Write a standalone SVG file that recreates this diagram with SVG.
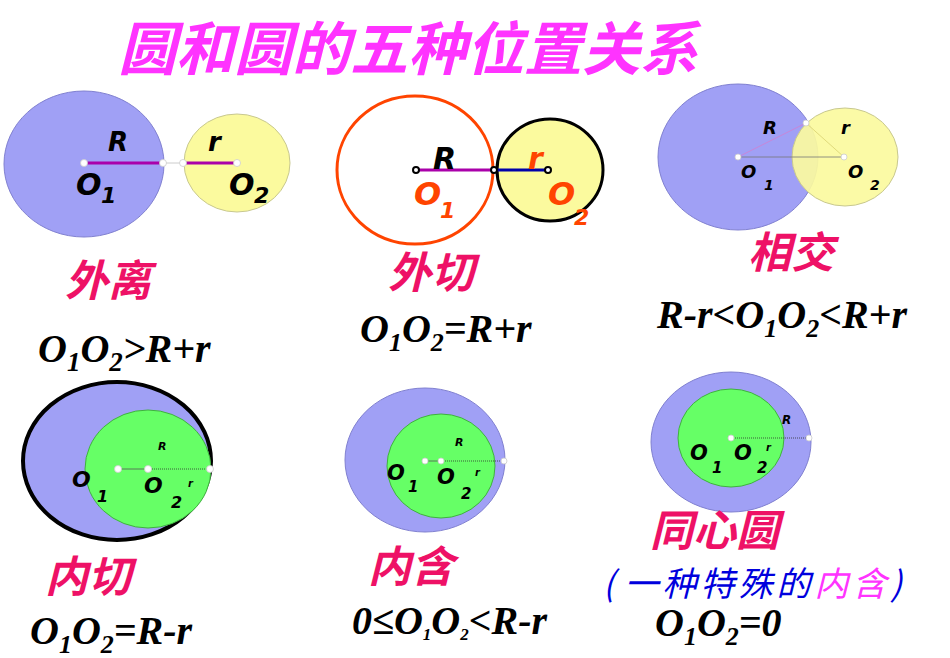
<svg xmlns="http://www.w3.org/2000/svg" width="950" height="658" viewBox="0 0 950 658">
<style>
.big{fill:#a0a0f5;stroke:#8080d0;stroke-width:1}
.yel{fill:#fbfa9e;stroke:#c8c890;stroke-width:1}
.grn{fill:#66ff66;stroke:#40b040;stroke-width:1}
.pt{fill:#fff;stroke:#ccc;stroke-width:0.8}
.lbl{font-family:"DejaVu Sans",sans-serif;font-style:italic;font-weight:bold;fill:#000}
.cn{font-family:"Noto Sans CJK SC",sans-serif;font-style:italic;font-weight:bold;fill:#ee1166;font-size:43px}
.f{font-family:"Liberation Serif",serif;font-style:italic;font-weight:bold;fill:#000;font-size:40px}
.dot{stroke:#333;stroke-width:0.8;stroke-dasharray:1 1}
</style>
<rect width="950" height="658" fill="#fff"/>
<text x="118" y="70" font-family="Noto Sans CJK SC,sans-serif" font-style="italic" font-weight="bold" font-size="58" fill="#ff33ff">圆和圆的五种位置关系</text>

<g id="waili">
<ellipse class="big" cx="84" cy="164" rx="80" ry="73"/>
<ellipse class="yel" cx="237" cy="163" rx="53" ry="49"/>
<line x1="84" y1="163" x2="163" y2="163" stroke="#aa00aa" stroke-width="3"/>
<line x1="163" y1="163" x2="183" y2="163" stroke="#ccc" stroke-width="1"/>
<line x1="183" y1="163" x2="237" y2="163" stroke="#aa00aa" stroke-width="3"/>
<circle class="pt" cx="84" cy="163" r="3.5"/><circle class="pt" cx="163" cy="163" r="3.5"/><circle class="pt" cx="183" cy="163" r="3.5"/><circle class="pt" cx="237" cy="163" r="3.5"/>
<text class="lbl" x="108" y="151" font-size="26">R</text>
<text class="lbl" x="76" y="195" font-size="30">O</text><text class="lbl" x="101" y="203" font-size="22">1</text>
<text class="lbl" x="208" y="151" font-size="26">r</text>
<text class="lbl" x="229" y="195" font-size="30">O</text><text class="lbl" x="254" y="203" font-size="22">2</text>
<text class="cn" x="65" y="296">外离</text>
<text class="f" x="38" y="362" font-size="42">O<tspan font-size="27" dy="9">1</tspan><tspan dy="-9">O</tspan><tspan font-size="27" dy="9">2</tspan><tspan dy="-9">&gt;R+r</tspan></text>
</g>

<g id="waiqie">
<ellipse cx="415" cy="170" rx="78" ry="74" fill="#fff" stroke="#ff4400" stroke-width="3"/>
<ellipse cx="550" cy="170" rx="53" ry="51" fill="#fbfa9e" stroke="#000" stroke-width="3"/>
<line x1="416" y1="170" x2="494" y2="170" stroke="#aa00aa" stroke-width="3"/>
<line x1="494" y1="170" x2="548" y2="170" stroke="#0000aa" stroke-width="3"/>
<circle cx="416" cy="170" r="3" fill="#fff" stroke="#000" stroke-width="2"/><circle cx="494" cy="170" r="3" fill="#fff" stroke="#000" stroke-width="2"/><circle cx="548" cy="170" r="3" fill="#fff" stroke="#000" stroke-width="2"/>
<text class="lbl" x="433" y="169" font-size="30" font-weight="normal">R</text>
<text class="lbl" x="528" y="169" font-size="30" font-weight="normal" style="fill:#ff4400">r</text>
<text class="lbl" x="414" y="205" font-size="32" font-weight="normal" style="fill:#ff4400">O</text><text class="lbl" x="440" y="218" font-size="22" font-weight="normal" style="fill:#ff4400">1</text>
<text class="lbl" x="548" y="205" font-size="32" font-weight="normal" style="fill:#ff4400">O</text><text class="lbl" x="574" y="225" font-size="22" font-weight="normal" style="fill:#ff4400">2</text>
<text class="cn" x="388" y="288">外切</text>
<text class="f" x="360" y="342">O<tspan font-size="26" dy="9">1</tspan><tspan dy="-9">O</tspan><tspan font-size="26" dy="9">2</tspan><tspan dy="-9">=R+r</tspan></text>
</g>

<g id="xiangjiao">
<ellipse class="big" cx="738" cy="157" rx="80" ry="73"/>
<ellipse cx="845" cy="157" rx="53" ry="49" fill="#fbfa9e" fill-opacity="0.92" stroke="#c8c890"/>
<line x1="738" y1="157" x2="844" y2="157" stroke="#777" stroke-width="0.8"/>
<line x1="738" y1="157" x2="806" y2="123" stroke="#d080d0" stroke-width="0.8"/>
<line x1="806" y1="123" x2="844" y2="157" stroke="#d8d070" stroke-width="0.8"/>
<circle class="pt" cx="738" cy="157" r="3"/><circle class="pt" cx="844" cy="157" r="3"/><circle class="pt" cx="806" cy="123" r="3"/>
<text class="lbl" x="763" y="134" font-size="18" font-weight="normal">R</text>
<text class="lbl" x="841" y="134" font-size="18" font-weight="normal">r</text>
<text class="lbl" x="741" y="178" font-size="18" font-weight="normal">O</text><text class="lbl" x="764" y="190" font-size="14">1</text>
<text class="lbl" x="848" y="178" font-size="18" font-weight="normal">O</text><text class="lbl" x="870" y="190" font-size="14">2</text>
<text class="cn" x="748" y="268">相交</text>
<text class="f" x="657" y="328">R-r&lt;O<tspan font-size="26" dy="9">1</tspan><tspan dy="-9">O</tspan><tspan font-size="26" dy="9">2</tspan><tspan dy="-9">&lt;R+r</tspan></text>
</g>

<g id="neiqie">
<ellipse cx="117" cy="461" rx="94" ry="79" fill="#a0a0f5" stroke="#000" stroke-width="4"/>
<ellipse class="grn" cx="148" cy="469" rx="63" ry="59"/>
<line x1="118" y1="469" x2="148" y2="469" stroke="#555" stroke-width="0.8"/>
<line class="dot" x1="148" y1="469" x2="210" y2="469"/>
<circle class="pt" cx="118" cy="469" r="3.5"/><circle class="pt" cx="148" cy="469" r="3.5"/><circle class="pt" cx="210" cy="469" r="3.5"/>
<text class="lbl" x="158" y="450" font-size="11" font-weight="normal">R</text>
<text class="lbl" x="188" y="487" font-size="10" font-weight="normal">r</text>
<text class="lbl" x="72" y="487" font-size="22" font-weight="normal">O</text><text class="lbl" x="97" y="502" font-size="16">1</text>
<text class="lbl" x="144" y="493" font-size="22" font-weight="normal">O</text><text class="lbl" x="171" y="508" font-size="16">2</text>
<text class="cn" x="45" y="592">内切</text>
<text class="f" x="30" y="644">O<tspan font-size="26" dy="9">1</tspan><tspan dy="-9">O</tspan><tspan font-size="26" dy="9">2</tspan><tspan dy="-9">=R-r</tspan></text>
</g>

<g id="neihan">
<ellipse class="big" cx="425" cy="460" rx="80" ry="72"/>
<ellipse class="grn" cx="441" cy="466" rx="54" ry="52"/>
<line x1="425" y1="461" x2="441" y2="461" stroke="#555" stroke-width="0.8"/>
<line class="dot" x1="441" y1="461" x2="504" y2="461"/>
<circle class="pt" cx="425" cy="461" r="3"/><circle class="pt" cx="441" cy="461" r="3"/><circle class="pt" cx="504" cy="461" r="3"/>
<text class="lbl" x="455" y="446" font-size="11" font-weight="normal">R</text>
<text class="lbl" x="475" y="476" font-size="10" font-weight="normal">r</text>
<text class="lbl" x="387" y="480" font-size="21" font-weight="normal">O</text><text class="lbl" x="408" y="492" font-size="15">1</text>
<text class="lbl" x="437" y="484" font-size="21" font-weight="normal">O</text><text class="lbl" x="461" y="499" font-size="15">2</text>
<text class="cn" x="368" y="582">内含</text>
<text class="f" x="352" y="634" font-size="26">0≤O<tspan font-size="17" dy="6">1</tspan><tspan dy="-6">O</tspan><tspan font-size="17" dy="6">2</tspan><tspan dy="-6">&lt;R-r</tspan></text>
</g>

<g id="tongxin">
<ellipse class="big" cx="731" cy="442" rx="80" ry="70"/>
<ellipse class="grn" cx="731" cy="438" rx="53" ry="49"/>
<line class="dot" x1="731" y1="438" x2="809" y2="438"/>
<circle class="pt" cx="731" cy="438" r="3"/><circle class="pt" cx="809" cy="438" r="3"/>
<text class="lbl" x="782" y="424" font-size="12" font-weight="normal">R</text>
<text class="lbl" x="766" y="451" font-size="10" font-weight="normal">r</text>
<text class="lbl" x="690" y="460" font-size="21" font-weight="normal">O</text><text class="lbl" x="712" y="473" font-size="15">1</text>
<text class="lbl" x="734" y="460" font-size="21" font-weight="normal">O</text><text class="lbl" x="757" y="473" font-size="15">2</text>
<text class="cn" x="650" y="546">同心圆</text>
<text x="603" y="596" font-family="Noto Sans CJK SC,sans-serif" font-style="italic" font-size="34" letter-spacing="4" fill="#0000dd">(<tspan dx="6">一种特殊的</tspan><tspan fill="#ff33ff">内含</tspan>)</text>
<text class="f" x="655" y="636">O<tspan font-size="26" dy="9">1</tspan><tspan dy="-9">O</tspan><tspan font-size="26" dy="9">2</tspan><tspan dy="-9">=0</tspan></text>
</g>
</svg>
